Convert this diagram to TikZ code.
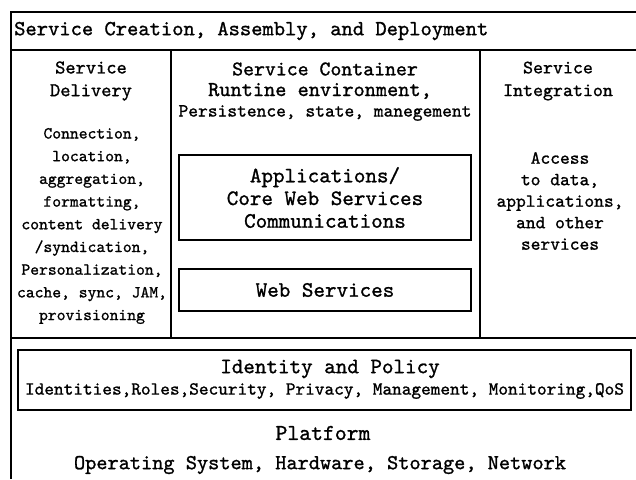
\documentclass[tikz,border=0pt]{standalone}
\usepackage{fontspec}
\setmonofont{lmmono10-regular.otf}[FakeBold=1.1]
\newcommand{\myfs}[1]{\fontsize{#1}{22.7}\selectfont}
\begin{document}
\begin{tikzpicture}[x=1pt,y=-1pt,
  frame/.style={line width=1.3pt},
  inbox/.style={draw,line width=1.3pt,inner sep=0},
  txt/.style={align=center,inner sep=0},
  fs/.style={font=\ttfamily\myfs{#1}}]
\useasboundingbox (0,0) rectangle (636,479);
% outer frame lines
\coordinate (tl) at (11,12);
\draw[frame] (636,12) -- (tl) -- (11,479);
\draw[frame] (11,50) -- (636,50);
\draw[frame] (11,338) -- (636,338);
\draw[frame] (171,50) -- (171,338);
\draw[frame] (480,50) -- (480,338);
% inner boxes
\node[inbox,minimum width=292pt,minimum height=85pt] (apps) at (325,197.5) {};
\node[inbox,minimum width=292pt,minimum height=42pt] (ws) at (325,290) {};
\node[inbox,minimum width=613pt,minimum height=60pt] (idp) at (324.5,380) {};
% texts
\node[txt,fs=21.5,anchor=west] (hdr) at (14,31) {Service Creation, Assembly, and Deployment};
\node[txt,fs=19.5] (sd) at (91,81) {Service\\Delivery};
\node[txt,fs=16.8] (sdl) at (92,226) {Connection,\\location,\\aggregation,\\formatting,\\content delivery\\/syndication,\\Personalization,\\cache, sync, JAM,\\provisioning};
\node[txt,fs=20.8] (sc1) at (325,69) {Service Container};
\node[txt,fs=21.3] (sc2) at (320,91) {Runtine environment,};
\node[txt,fs=18.6] (sc3) at (325,113) {Persistence, state, manegement};
\node[txt,fs=22] (appst) at (apps) {Applications/\\Core Web Services\\Communications};
\node[txt,fs=22] (wst) at (ws) {Web Services};
\node[txt,fs=19] (si) at (558,81) {Service\\Integration};
\node[txt,font=\ttfamily\fontsize{18.6}{21.5}\selectfont] (sil) at (560,201) {Access\\to data,\\applications,\\and other\\services};
\node[txt,fs=22] (idp1) at (330,369) {Identity and Policy};
\node[txt,fs=18.4] (idp2) at (324.5,391) {Identities,Roles,Security, Privacy, Management, Monitoring,QoS};
\node[txt,fs=22.6] (pf) at (323,433) {Platform};
\node[txt,fs=21.3] (os) at (320,465) {Operating System, Hardware, Storage, Network};
\end{tikzpicture}
\end{document}
